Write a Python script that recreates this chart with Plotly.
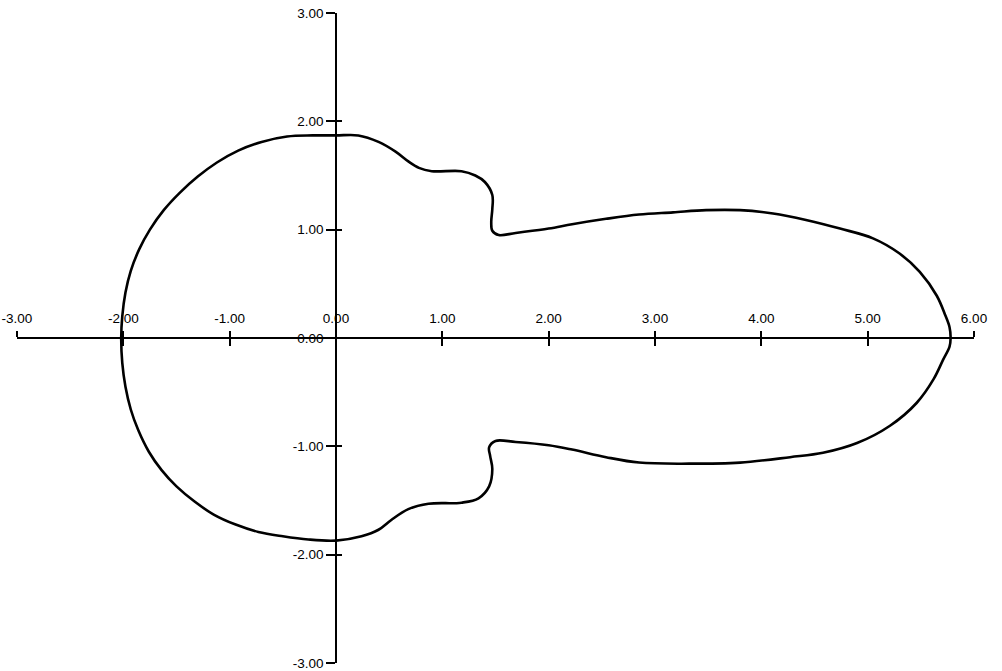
import plotly.graph_objects as go

# Lower half, traced from the left extreme to the right extreme
lower_x = [-2.01, -1.98, -1.93, -1.86, -1.76, -1.64, -1.50, -1.33, -1.15, -0.95, -0.73, -0.50,
           -0.26, 0.00, 0.24, 0.40, 0.52, 0.68, 0.87, 1.18, 1.34, 1.44, 1.47, 1.45, 1.44, 1.50,
           1.69, 2.00, 2.22, 2.54, 2.85, 3.32, 3.80, 4.27, 4.58, 4.90, 5.21, 5.46, 5.62, 5.71,
           5.77]
lower_y = [-0.23, -0.45, -0.66, -0.85, -1.05, -1.22, -1.37, -1.51, -1.63, -1.72, -1.79, -1.83,
           -1.86, -1.87, -1.83, -1.77, -1.68, -1.58, -1.53, -1.52, -1.48, -1.37, -1.21, -1.09,
           -1.01, -0.95, -0.96, -0.99, -1.03, -1.10, -1.15, -1.16, -1.15, -1.10, -1.06, -0.97,
           -0.81, -0.60, -0.38, -0.20, -0.08]

# Upper half, traced from the right extreme counter-clockwise to the left extreme
upper_x = [5.78, 5.77, 5.73, 5.65, 5.49, 5.30, 5.05, 4.74, 4.42, 4.11, 3.80, 3.48, 3.17, 2.85,
           2.54, 2.22, 2.00, 1.69, 1.53, 1.47, 1.46, 1.47, 1.47, 1.40, 1.31, 1.18, 0.90, 0.78,
           0.68, 0.56, 0.40, 0.21, 0.00, -0.22, -0.46, -0.70, -0.92, -1.12, -1.30, -1.47, -1.62,
           -1.75, -1.85, -1.93, -1.98, -2.01, -2.02]
upper_y = [0.00, 0.10, 0.21, 0.39, 0.61, 0.78, 0.92, 1.01, 1.09, 1.15, 1.18, 1.18, 1.16, 1.14,
           1.10, 1.05, 1.01, 0.97, 0.95, 0.99, 1.07, 1.19, 1.32, 1.44, 1.50, 1.54, 1.54, 1.57,
           1.63, 1.72, 1.81, 1.87, 1.87, 1.87, 1.86, 1.81, 1.73, 1.62, 1.49, 1.34, 1.18, 1.00,
           0.82, 0.62, 0.42, 0.20, 0.00]

x_ticks = [-3, -2, -1, 0, 1, 2, 3, 4, 5, 6]
y_ticks = [-3, -2, -1, 0, 1, 2, 3]
x_range = [-3, 6]
y_range = [-3, 3]

# closed outline: lower half, upper half, back to the first point
xs = lower_x + upper_x + lower_x[:1]
ys = lower_y + upper_y + lower_y[:1]

fig = go.Figure()
fig.add_trace(go.Scatter(x=xs, y=ys, mode="lines",
                         line=dict(color="black", width=2.6, shape="spline", smoothing=1.0),
                         hoverinfo="skip", showlegend=False))
# dummy trace for the overlay axes (crossing ticks)
fig.add_trace(go.Scatter(x=[None], y=[None], xaxis="x2", yaxis="y2", showlegend=False,
                         hoverinfo="skip"))

xpos = (0 - y_range[0]) / (y_range[1] - y_range[0])
ypos = (0 - x_range[0]) / (x_range[1] - x_range[0])

font = dict(family="Liberation Sans, Arial, sans-serif", size=13.5, color="black")
common_x = dict(range=x_range, tickvals=x_ticks, showgrid=False, zeroline=False,
                anchor="free", position=xpos, side="top", tickwidth=1.5,
                tickcolor="black", fixedrange=True, automargin=False,
                ticklabeloverflow="allow")
common_y = dict(range=y_range, tickvals=y_ticks, showgrid=False, zeroline=False,
                anchor="free", position=ypos, side="left", tickwidth=1.5,
                tickcolor="black", fixedrange=True, automargin=False,
                ticklabeloverflow="allow")

fig.update_layout(
    width=1002, height=671,
    margin=dict(l=17, r=28, t=13, b=8),
    paper_bgcolor="white", plot_bgcolor="white",
    font=font,
    hovermode=False,
    xaxis=dict(**common_x, ticks="outside", ticklen=6, showline=True, linecolor="black",
               linewidth=1.5, ticktext=[f"{v:.2f}" for v in x_ticks], tickfont=font,
               ticklabelstandoff=3),
    yaxis=dict(**common_y, ticks="outside", ticklen=9, showline=True, linecolor="black",
               linewidth=1.5, ticktext=[f"{v:.2f}" for v in y_ticks], tickfont=font),
    xaxis2=dict(**common_x, overlaying="x", ticks="inside", ticklen=7, showline=False,
                showticklabels=False),
    yaxis2=dict(**common_y, overlaying="y", ticks="inside", ticklen=5, showline=False,
                showticklabels=False),
)

fig.write_html("out.html", config={"displayModeBar": False},
               post_script="document.body.style.margin='0';")
